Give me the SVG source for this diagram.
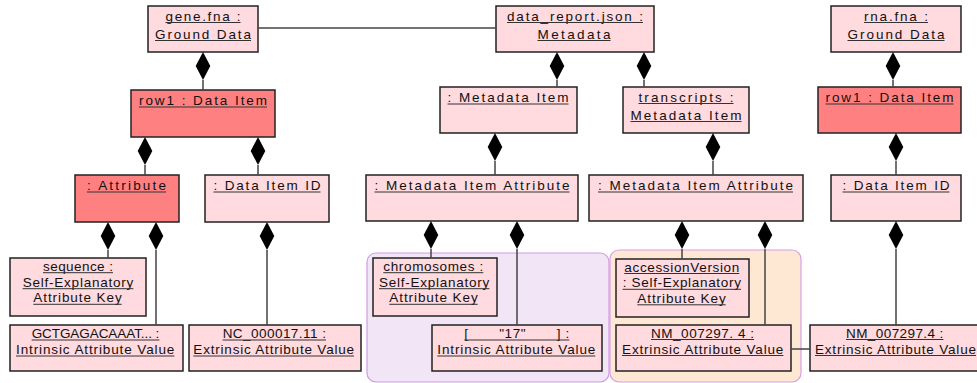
<svg xmlns="http://www.w3.org/2000/svg" width="977" height="383" viewBox="0 0 977 383">
<style>
.n{fill:#FFDADE;stroke:#222;stroke-width:1.5}
.h{fill:#FF8080;stroke:#222;stroke-width:1.5}
text{font-family:"Liberation Sans",Arial,sans-serif;font-size:13.5px;fill:#111;text-anchor:middle}
.u{stroke:#333;stroke-width:1;fill:none}
.c{stroke:#444;stroke-width:1.5;fill:none}
.d{fill:#000;stroke:none}
.gp{fill:#F2E5F5;stroke:#CF9BE3;stroke-width:1.2}
.go{fill:#FEE8D3;stroke:#D6A0E6;stroke-width:1.2}
</style>
<defs>
<path id="dm" d="M0,0 L7.3,14 L0,28 L-7.3,14 Z"/>
</defs>
<g id="groups">
<rect class="gp" x="367" y="253" width="242" height="129" rx="9"/>
<rect class="go" x="610" y="250" width="191" height="132" rx="9"/>
</g>
<g id="gene_fna"><rect class="n" x="148" y="6" width="110" height="46"/><text x="203" y="20.5" textLength="75" lengthAdjust="spacing">gene.fna :</text><text x="203" y="38.5" textLength="96" lengthAdjust="spacing">Ground Data</text><path class="u" d="M165.5,22.5 H240.5 M155,40.5 H251"/></g>
<g id="data_report"><rect class="n" x="496" y="6" width="158" height="46"/><text x="575" y="20.5" textLength="136" lengthAdjust="spacing">data_report.json :</text><text x="574" y="38.5" textLength="73" lengthAdjust="spacing">Metadata</text><path class="u" d="M507,22.5 H643 M537.5,40.5 H610.5"/></g>
<g id="rna_fna"><rect class="n" x="831" y="6" width="130" height="46"/><text x="896" y="20.5" textLength="64" lengthAdjust="spacing">rna.fna :</text><text x="896" y="38.5" textLength="97" lengthAdjust="spacing">Ground Data</text><path class="u" d="M864,22.5 H928 M847.5,40.5 H944.5"/></g>
<g id="row1_left"><rect class="h" x="131" y="90" width="144" height="47"/><text x="203" y="105" textLength="128" lengthAdjust="spacing">row1 : Data Item</text><path class="u" d="M139,107 H267"/></g>
<g id="metadata_item"><rect class="n" x="440" y="87" width="137" height="46"/><text x="508" y="102" textLength="121" lengthAdjust="spacing">: Metadata Item</text><path class="u" d="M447.5,104 H568.5"/></g>
<g id="transcripts"><rect class="n" x="623" y="87" width="126" height="46"/><text x="686" y="101.5" textLength="95" lengthAdjust="spacing">transcripts :</text><text x="686" y="119.5" textLength="111" lengthAdjust="spacing">Metadata Item</text><path class="u" d="M638.5,103.5 H733.5 M630.5,121.5 H741.5"/></g>
<g id="row1_right"><rect class="h" x="818" y="87" width="143" height="46"/><text x="889.5" y="102" textLength="128" lengthAdjust="spacing">row1 : Data Item</text><path class="u" d="M825.5,104 H953.5"/></g>
<g id="attribute"><rect class="h" x="75" y="175" width="104" height="47"/><text x="126.5" y="190" textLength="79" lengthAdjust="spacing">: Attribute</text><path class="u" d="M87,192 H166"/></g>
<g id="data_item_id_left"><rect class="n" x="205" y="175" width="124" height="47"/><text x="267" y="190" textLength="107" lengthAdjust="spacing">: Data Item ID</text><path class="u" d="M213.5,192 H320.5"/></g>
<g id="mia1"><rect class="n" x="366" y="175" width="212" height="46"/><text x="472" y="190" textLength="195" lengthAdjust="spacing">: Metadata Item Attribute</text><path class="u" d="M374.5,192 H569.5"/></g>
<g id="mia2"><rect class="n" x="589" y="175" width="214" height="46"/><text x="695.5" y="190" textLength="195" lengthAdjust="spacing">: Metadata Item Attribute</text><path class="u" d="M598,192 H793"/></g>
<g id="data_item_id_right"><rect class="n" x="831" y="175" width="130" height="46"/><text x="896" y="190" textLength="107" lengthAdjust="spacing">: Data Item ID</text><path class="u" d="M842.5,192 H949.5"/></g>
<g id="sequence"><rect class="n" x="10" y="258" width="136" height="58"/><text x="78" y="270.7" textLength="70" lengthAdjust="spacing">sequence :</text><text x="78" y="286.7" textLength="110.7" lengthAdjust="spacing">Self-Explanatory</text><text x="77.5" y="302.3" textLength="88.3" lengthAdjust="spacing">Attribute Key</text><path class="u" d="M43,272.7 H113 M22.6,288.7 H133.4 M33.3,304.3 H121.7"/></g>
<g id="gct"><rect class="n" x="10" y="325" width="173" height="46"/><text x="95.5" y="338" textLength="127.7" lengthAdjust="spacing">GCTGAGACAAAT... :</text><text x="95.2" y="354" textLength="158.3" lengthAdjust="spacing">Intrinsic Attribute Value</text><path class="u" d="M31.6,340 H159.4 M16,356 H174.4"/></g>
<g id="nc"><rect class="n" x="189" y="325" width="172" height="46"/><text x="274.3" y="338" textLength="103.3" lengthAdjust="spacing">NC_000017.11 :</text><text x="273.7" y="354" textLength="160.7" lengthAdjust="spacing">Extrinsic Attribute Value</text><path class="u" d="M222.6,340 H326 M193.3,356 H354"/></g>
<g id="chromosomes"><rect class="n" x="373" y="258" width="124" height="58"/><text x="433.3" y="270.7" textLength="100" lengthAdjust="spacing">chromosomes :</text><text x="434.2" y="286.7" textLength="110.3" lengthAdjust="spacing">Self-Explanatory</text><text x="433.5" y="302.3" textLength="88.3" lengthAdjust="spacing">Attribute Key</text><path class="u" d="M383.3,272.7 H483.3 M379,288.7 H489.4 M389.3,304.3 H477.7"/></g>
<g id="value17"><rect class="n" x="432" y="325" width="170" height="46"/><text x="516.8" y="338" textLength="105" lengthAdjust="spacing" xml:space="preserve">[       "17"       ] :</text><text x="516.3" y="354" textLength="158" lengthAdjust="spacing">Intrinsic Attribute Value</text><path class="u" d="M464.3,340 H569.3 M437.3,356 H595.3"/></g>
<g id="accession_version"><rect class="n" x="616" y="259" width="133" height="58"/><text x="681.8" y="271.5" textLength="115" lengthAdjust="spacing">accessionVersion</text><text x="681.8" y="287.3" textLength="118.3" lengthAdjust="spacing">: Self-Explanatory</text><text x="681.5" y="302.8" textLength="88.3" lengthAdjust="spacing">Attribute Key</text><path class="u" d="M624.3,273.5 H739.3 M622.6,289.3 H741 M637.3,304.8 H725.7"/></g>
<g id="nm1"><rect class="n" x="616" y="325" width="175" height="46"/><text x="702.5" y="337.5" textLength="103" lengthAdjust="spacing">NM_007297. 4 :</text><text x="702.7" y="353.5" textLength="161.3" lengthAdjust="spacing">Extrinsic Attribute Value</text><path class="u" d="M651,339.5 H754 M622,355.5 H783.4"/></g>
<g id="nm2"><rect class="n" x="810" y="325" width="172" height="46"/><text x="894.7" y="337.5" textLength="97.3" lengthAdjust="spacing">NM_007297.4 :</text><text x="895.5" y="353.5" textLength="161" lengthAdjust="spacing">Extrinsic Attribute Value</text><path class="u" d="M846,339.5 H943.4 M815,355.5 H976"/></g>
<g id="connectors">
<path class="c" d="M258,28 H496"/>
<path class="c" d="M791,349 H810"/>
<path class="c" d="M203,80 V90 M145,165 V175 M258,165 V175 M108,250 V258 M156,250 V325 M267,250 V325"/>
<path class="c" d="M557,80 V87 M644,80 V87 M495,161 V175 M713,161 V175 M431,249 V258 M517,249 V325 M682,249 V259 M765,249 V325"/>
<path class="c" d="M893,80 V87 M896,161 V175 M896,249 V325"/>
<use href="#dm" class="d" x="203" y="52"/>
<use href="#dm" class="d" x="145" y="137"/>
<use href="#dm" class="d" x="258" y="137"/>
<use href="#dm" class="d" x="108" y="222"/>
<use href="#dm" class="d" x="156" y="222"/>
<use href="#dm" class="d" x="267" y="222"/>
<use href="#dm" class="d" x="557" y="52"/>
<use href="#dm" class="d" x="644" y="52"/>
<use href="#dm" class="d" x="495" y="133"/>
<use href="#dm" class="d" x="713" y="133"/>
<use href="#dm" class="d" x="431" y="221"/>
<use href="#dm" class="d" x="517" y="221"/>
<use href="#dm" class="d" x="682" y="221"/>
<use href="#dm" class="d" x="765" y="221"/>
<use href="#dm" class="d" x="893" y="52"/>
<use href="#dm" class="d" x="896" y="133"/>
<use href="#dm" class="d" x="896" y="221"/>
</g>
</svg>
